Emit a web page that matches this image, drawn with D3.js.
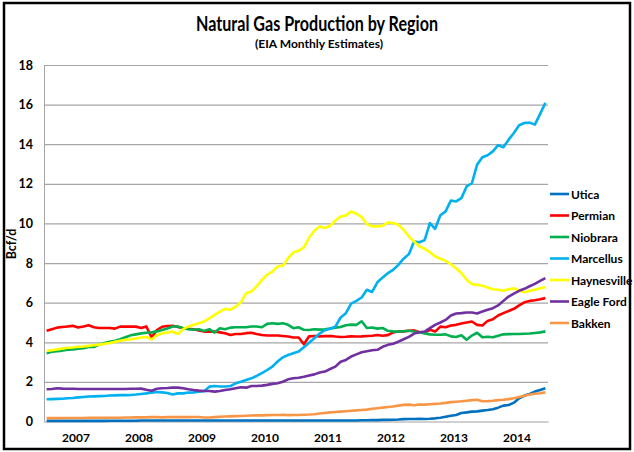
<!DOCTYPE html>
<html>
<meta charset="utf-8">
<script src="https://d3js.org/d3.v7.min.js"></script>
<style>
  body { margin: 0; background: #fff; }
  text { font-family: Lato, "Open Sans", sans-serif; font-weight: bold; }
</style>
<body>
<div id="plot_area"></div>
<script>

// monthly estimates, Jan 2007 .. Dec 2014 (Bcf/d)
var years = [2007, 2008, 2009, 2010, 2011, 2012, 2013, 2014];
var yTicks = [0, 2, 4, 6, 8, 10, 12, 14, 16, 18];
var names = ["Utica", "Permian", "Niobrara", "Marcellus", "Haynesville", "Eagle Ford", "Bakken"];
var colors = ["#0070c0", "#ff0000", "#00b050", "#00b0f0", "#ffff00", "#7030a0", "#f79646"];

var utica = [
  0.03,0.03,0.03,0.03,0.03,0.03,0.03,0.03,0.03,0.03,0.03,0.03,
  0.04,0.04,0.04,0.04,0.04,0.04,0.05,0.05,0.05,0.05,0.05,0.05,
  0.05,0.05,0.05,0.05,0.05,0.05,0.05,0.05,0.05,0.05,0.05,0.05,
  0.05,0.05,0.05,0.05,0.05,0.05,0.05,0.05,0.05,0.05,0.05,0.05,
  0.05,0.05,0.05,0.05,0.05,0.05,0.05,0.05,0.05,0.05,0.05,0.05,
  0.06,0.06,0.07,0.07,0.08,0.08,0.09,0.10,0.12,0.13,0.13,0.14,
  0.13,0.14,0.16,0.19,0.24,0.29,0.33,0.43,0.46,0.50,0.51,0.55,
  0.58,0.62,0.70,0.80,0.83,0.95,1.17,1.31,1.39,1.51,1.59,1.68];

var permian = [
  4.58,4.66,4.74,4.77,4.80,4.83,4.75,4.80,4.86,4.76,4.72,4.72,
  4.72,4.69,4.79,4.79,4.80,4.79,4.72,4.80,4.24,4.62,4.78,4.82,
  4.83,4.77,4.71,4.68,4.66,4.60,4.54,4.55,4.54,4.50,4.46,4.37,
  4.42,4.42,4.46,4.48,4.42,4.37,4.34,4.34,4.34,4.32,4.29,4.24,
  4.24,3.90,4.30,4.32,4.30,4.31,4.32,4.29,4.27,4.28,4.30,4.29,
  4.30,4.32,4.33,4.37,4.33,4.36,4.50,4.54,4.55,4.58,4.60,4.52,
  4.49,4.63,4.54,4.79,4.76,4.85,4.88,4.95,5.00,5.05,4.88,4.85,
  5.08,5.16,5.35,5.47,5.58,5.69,5.86,6.02,6.09,6.12,6.17,6.23];

var niobrara = [
  3.45,3.52,3.55,3.58,3.63,3.64,3.68,3.70,3.76,3.76,3.88,3.96,
  4.02,4.08,4.15,4.25,4.35,4.40,4.45,4.48,4.50,4.55,4.62,4.70,
  4.80,4.80,4.71,4.66,4.63,4.66,4.57,4.66,4.49,4.71,4.66,4.74,
  4.76,4.76,4.76,4.80,4.80,4.76,4.93,4.96,4.93,4.96,4.88,4.71,
  4.76,4.63,4.62,4.66,4.64,4.66,4.70,4.74,4.77,4.86,4.89,4.88,
  5.06,4.72,4.75,4.69,4.72,4.58,4.55,4.54,4.56,4.58,4.54,4.51,
  4.45,4.40,4.38,4.38,4.40,4.30,4.27,4.35,4.13,4.34,4.48,4.25,
  4.28,4.25,4.33,4.40,4.41,4.42,4.42,4.43,4.44,4.47,4.50,4.55];

var marcellus = [
  1.12,1.13,1.14,1.15,1.17,1.19,1.22,1.24,1.26,1.27,1.28,1.29,
  1.31,1.32,1.33,1.33,1.34,1.36,1.39,1.42,1.46,1.49,1.47,1.44,
  1.36,1.42,1.42,1.46,1.47,1.51,1.53,1.76,1.79,1.77,1.77,1.79,
  1.93,2.01,2.10,2.18,2.30,2.44,2.60,2.77,3.03,3.24,3.36,3.45,
  3.53,3.75,3.98,4.20,4.44,4.61,4.68,4.79,5.25,5.47,5.95,6.09,
  6.26,6.65,6.54,7.03,7.27,7.49,7.66,7.91,8.22,8.45,9.09,9.05,
  9.16,10.02,9.73,10.41,10.61,11.16,11.11,11.28,11.87,12.03,12.97,13.34,
  13.44,13.64,13.95,13.85,14.23,14.57,14.96,15.07,15.09,14.99,15.53,16.09];

var haynesville = [
  3.56,3.60,3.64,3.68,3.72,3.74,3.77,3.79,3.82,3.85,3.88,3.92,
  3.96,4.02,4.08,4.12,4.15,4.19,4.24,4.27,4.14,4.36,4.45,4.49,
  4.54,4.42,4.66,4.80,4.88,4.96,5.05,5.21,5.38,5.55,5.69,5.64,
  5.80,6.01,6.48,6.56,6.82,7.15,7.41,7.57,7.83,7.86,8.25,8.54,
  8.62,8.79,9.29,9.63,9.85,9.77,9.88,10.15,10.35,10.40,10.61,10.49,
  10.32,9.97,9.85,9.85,9.88,10.05,10.02,9.94,9.68,9.34,9.09,8.84,
  8.72,8.55,8.33,8.22,8.11,7.94,7.74,7.49,7.16,6.94,6.90,6.85,
  6.77,6.68,6.65,6.60,6.68,6.73,6.60,6.53,6.60,6.65,6.73,6.78];

var eagleFord = [
  1.63,1.64,1.68,1.66,1.65,1.65,1.64,1.64,1.64,1.64,1.64,1.64,
  1.64,1.64,1.64,1.64,1.65,1.65,1.66,1.60,1.55,1.65,1.68,1.69,
  1.71,1.71,1.68,1.63,1.59,1.56,1.54,1.54,1.51,1.54,1.59,1.63,
  1.68,1.73,1.71,1.79,1.79,1.81,1.85,1.90,1.93,2.01,2.13,2.18,
  2.21,2.26,2.32,2.38,2.47,2.52,2.65,2.77,3.02,3.11,3.28,3.39,
  3.50,3.55,3.60,3.62,3.77,3.87,3.93,4.03,4.15,4.27,4.44,4.51,
  4.54,4.71,4.88,5.00,5.13,5.35,5.45,5.47,5.50,5.50,5.45,5.55,
  5.64,5.72,5.86,6.09,6.31,6.46,6.60,6.70,6.83,6.95,7.10,7.24];

var bakken = [
  0.17,0.17,0.17,0.18,0.18,0.18,0.18,0.18,0.19,0.19,0.19,0.19,
  0.19,0.19,0.19,0.20,0.20,0.21,0.21,0.21,0.22,0.22,0.21,0.22,
  0.22,0.22,0.22,0.22,0.23,0.23,0.20,0.20,0.22,0.24,0.25,0.26,
  0.27,0.28,0.29,0.30,0.31,0.31,0.32,0.33,0.33,0.34,0.32,0.33,
  0.33,0.34,0.35,0.37,0.40,0.43,0.46,0.48,0.50,0.52,0.54,0.56,
  0.58,0.60,0.64,0.67,0.70,0.73,0.76,0.80,0.84,0.85,0.82,0.86,
  0.85,0.87,0.89,0.91,0.94,0.98,1.00,1.02,1.05,1.08,1.10,1.02,
  1.03,1.05,1.08,1.10,1.13,1.17,1.24,1.30,1.36,1.40,1.43,1.47];

var series = [utica, permian, niobrara, marcellus, haynesville, eagleFord, bakken];

var W = 634, H = 452;
var margin = {top: 65, right: 86, bottom: 30.5, left: 44},
    width = W - margin.left - margin.right,
    height = H - margin.top - margin.bottom;

var svg = d3.select("#plot_area")
  .append("svg")
    .attr("width", W)
    .attr("height", H);

// outer frame
svg.append("rect")
  .attr("x", 4).attr("y", 3)
  .attr("width", 626).attr("height", 446)
  .attr("fill", "#fff")
  .attr("stroke", "#000")
  .attr("stroke-width", 2.5);

svg.append("text")
  .attr("x", 317).attr("y", 31)
  .attr("text-anchor", "middle")
  .attr("font-size", 21.5)
  .attr("textLength", 242)
  .attr("lengthAdjust", "spacingAndGlyphs")
  .text("Natural Gas Production by Region");

svg.append("text")
  .attr("x", 319).attr("y", 48)
  .attr("text-anchor", "middle")
  .attr("font-size", 11.5)
  .attr("textLength", 128)
  .attr("lengthAdjust", "spacingAndGlyphs")
  .text("(EIA Monthly Estimates)");

var g = svg.append("g")
  .attr("transform", "translate(" + margin.left + "," + margin.top + ")");

var nMonths = years.length * 12;
var x = d3.scaleLinear().domain([0, nMonths]).range([0, width]);
var y = d3.scaleLinear().domain([0, 18]).range([height, 0]);

// Y axis + gridlines
var yAxis = g.append("g")
  .call(d3.axisLeft(y).tickValues(yTicks).tickSize(-width).tickPadding(11));
yAxis.select(".domain").attr("stroke", "#a6a6a6");
yAxis.selectAll(".tick line").attr("stroke", "#a6a6a6").attr("stroke-width", 1.2);
yAxis.selectAll(".tick text")
  .attr("font-size", 12.5).attr("fill", "#000")
  .style("font-family", "Lato, sans-serif").style("font-weight", "bold");

// X axis, year labels centred in each year
var xAxis = g.append("g")
  .attr("transform", "translate(0," + height + ")")
  .call(d3.axisBottom(x)
    .tickValues(years.map(function(d, i) { return i * 12 + 6; }))
    .tickSize(0).tickPadding(12)
    .tickFormat(function(d) { return years[Math.floor(d / 12)]; }));
xAxis.select(".domain").attr("stroke", "#d0d0d0").attr("stroke-width", 2);
xAxis.selectAll(".tick text")
  .attr("font-size", 12).attr("fill", "#000")
  .style("font-family", "Lato, sans-serif").style("font-weight", "bold");

svg.append("text")
  .attr("transform", "translate(16,244)rotate(-90)")
  .attr("text-anchor", "middle")
  .attr("font-size", 12.5)
  .text("Bcf/d");

var line = d3.line()
  .x(function(d, i) { return x(i + 0.5); })
  .y(function(d) { return y(d); });

g.selectAll(".series")
  .data(series)
  .enter()
  .append("path")
    .attr("class", "series")
    .attr("d", line)
    .attr("fill", "none")
    .attr("stroke", function(d, i) { return colors[i]; })
    .attr("stroke-width", 2.6)
    .attr("stroke-linejoin", "round");

// legend
var legend = svg.selectAll(".legend")
  .data(names)
  .enter()
  .append("g")
    .attr("class", "legend")
    .attr("transform", function(d, i) { return "translate(550," + (194 + i * 21.5) + ")"; });
legend.append("line")
  .attr("x1", 0).attr("x2", 19)
  .attr("stroke", function(d, i) { return colors[i]; })
  .attr("stroke-width", 2.6);
legend.append("text")
  .attr("x", 21).attr("y", 4.5)
  .attr("font-size", 12)
  .text(function(d) { return d; });

</script>
</body>
</html>
